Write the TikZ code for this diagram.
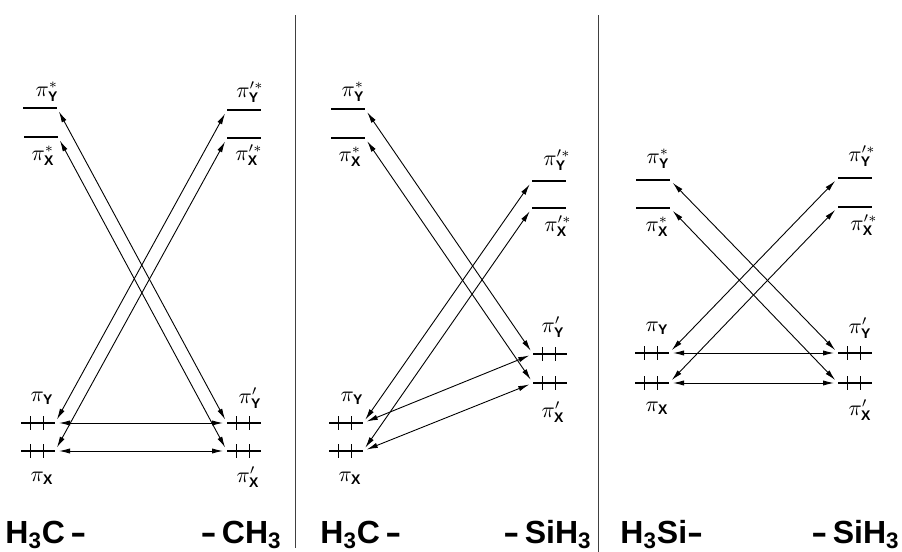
\documentclass[tikz,border=0pt]{standalone}
\usepackage{fontspec}
\setsansfont{Liberation Sans}
\usetikzlibrary{arrows.meta}
\newcommand{\symY}{\hbox{\fontsize{7}{7}\selectfont\sffamily\bfseries Y}}
\newcommand{\symX}{\hbox{\fontsize{7}{7}\selectfont\sffamily\bfseries X}}
\newcommand{\molbar}{\scalebox{1.5}[1]{-}}
\newcommand{\lev}[3]{\node[lev] (#1) at (#2,#3) {}; \draw[levline] (#1.west) -- (#1.east);}
\newcommand{\occ}[3]{\lev{#1}{#2}{#3}
  \draw[tickline] ([shift={(-3.7pt,3.5pt)}]#1.center) -- ++(0,-7pt)
                  ([shift={(2.8pt,3.5pt)}]#1.center) -- ++(0,-7pt);}
\begin{document}
\begin{tikzpicture}[x=0.5pt,y=-0.5pt,
  lev/.style={minimum width=17pt,minimum height=0pt,inner sep=0pt,outer sep=0pt,draw=none},
  levline/.style={line width=0.8pt},
  tickline/.style={line width=0.55pt},
  dbl/.style={{Latex[length=5.5pt,width=2.6pt]}-{Latex[length=5.5pt,width=2.6pt]},line width=0.45pt,shorten <=2pt,shorten >=2pt},
  lab/.style={font=\fontsize{10.5}{11}\selectfont,inner sep=0pt},
  mol/.style={font={\fontsize{16}{16}\selectfont\sffamily\bfseries},inner sep=0pt},
  sepline/.style={line width=0.5pt,black!75}]
\useasboundingbox (0,0) rectangle (902,552);
% separators
\draw[sepline] (295,15) -- (295,548);
\draw[sepline] (598,15) -- (598,552);
% ---------- panel 1
\lev{AYs}{40}{108} \lev{AXs}{41}{137} \lev{AYsp}{244}{110} \lev{AXsp}{244}{138}
\occ{AY}{38}{423} \occ{AX}{38}{451} \occ{AYp}{244}{423} \occ{AXp}{244}{451}
\node[lab] (tAYs) at (47,92) {$\pi^{*}_{\symY}$};
\node[lab] (tAXs) at (43,156) {$\pi^{*}_{\symX}$};
\node[lab] (tAYsp) at (250,92) {$\pi^{\prime *}_{\symY}$};
\node[lab] (tAXsp) at (249,155) {$\pi^{\prime *}_{\symX}$};
\node[lab] (tAY) at (42,398) {$\pi_{\symY}$};
\node[lab] (tAX) at (42,478) {$\pi_{\symX}$};
\node[lab] (tAYp) at (250,398) {$\pi^{\prime}_{\symY}$};
\node[lab] (tAXp) at (248,477) {$\pi^{\prime}_{\symX}$};
\draw[dbl] (AYs.east) -- (AYp.west);
\draw[dbl] (AXs.east) -- (AXp.west);
\draw[dbl] (AYsp.west) -- (AY.east);
\draw[dbl] (AXsp.west) -- (AX.east);
\draw[dbl] (AY.east) -- (AYp.west);
\draw[dbl] (AX.east) -- (AXp.west);
\node[mol,anchor=base west] (mA1) at (5,543) {H\textsubscript{3}C\,\molbar};
\node[mol,anchor=base east] (mA2) at (282,543) {\molbar\,CH\textsubscript{3}};
% ---------- panel 2
\lev{BYs}{348}{109} \lev{BXs}{348}{138} \lev{BYsp}{549}{181} \lev{BXsp}{549}{208}
\occ{BY}{346}{423} \occ{BX}{346}{451} \occ{BYp}{550}{354} \occ{BXp}{550}{383}
\node[lab] (tBYs) at (353,92) {$\pi^{*}_{\symY}$};
\node[lab] (tBXs) at (350,157) {$\pi^{*}_{\symX}$};
\node[lab] (tBYsp) at (557,160) {$\pi^{\prime *}_{\symY}$};
\node[lab] (tBXsp) at (558,226) {$\pi^{\prime *}_{\symX}$};
\node[lab] (tBY) at (352,398) {$\pi_{\symY}$};
\node[lab] (tBX) at (350,478) {$\pi_{\symX}$};
\node[lab] (tBYp) at (553,327) {$\pi^{\prime}_{\symY}$};
\node[lab] (tBXp) at (553,412) {$\pi^{\prime}_{\symX}$};
\draw[dbl] (BYs.east) -- (BYp.west);
\draw[dbl] (BXs.east) -- (BXp.west);
\draw[dbl] (BYsp.west) -- (BY.east);
\draw[dbl] (BXsp.west) -- (BX.east);
\draw[dbl] (BY.east) -- (BYp.west);
\draw[dbl] (BX.east) -- (BXp.west);
\node[mol,anchor=base west] (mB1) at (320,543) {H\textsubscript{3}C\,\molbar};
\node[mol,anchor=base east] (mB2) at (592,543) {\molbar\,SiH\textsubscript{3}};
% ---------- panel 3
\lev{CYs}{653}{180} \lev{CXs}{653}{208} \lev{CYsp}{855}{178} \lev{CXsp}{855}{207}
\occ{CY}{652}{353} \occ{CX}{652}{383} \occ{CYp}{855}{353} \occ{CXp}{855}{383}
\node[lab] (tCYs) at (658,159) {$\pi^{*}_{\symY}$};
\node[lab] (tCXs) at (657,227) {$\pi^{*}_{\symX}$};
\node[lab] (tCYsp) at (862,156) {$\pi^{\prime *}_{\symY}$};
\node[lab] (tCXsp) at (864,225) {$\pi^{\prime *}_{\symX}$};
\node[lab] (tCY) at (657,328) {$\pi_{\symY}$};
\node[lab] (tCX) at (657,408) {$\pi_{\symX}$};
\node[lab] (tCYp) at (860,328) {$\pi^{\prime}_{\symY}$};
\node[lab] (tCXp) at (860,410) {$\pi^{\prime}_{\symX}$};
\draw[dbl] (CYs.east) -- (CYp.west);
\draw[dbl] (CXs.east) -- (CXp.west);
\draw[dbl] (CYsp.west) -- (CY.east);
\draw[dbl] (CXsp.west) -- (CX.east);
\draw[dbl] (CY.east) -- (CYp.west);
\draw[dbl] (CX.east) -- (CXp.west);
\node[mol,anchor=base west] (mC1) at (620,543) {H\textsubscript{3}Si\molbar};
\node[mol,anchor=base east] (mC2) at (900,543) {\molbar\,SiH\textsubscript{3}};
\end{tikzpicture}
\end{document}
